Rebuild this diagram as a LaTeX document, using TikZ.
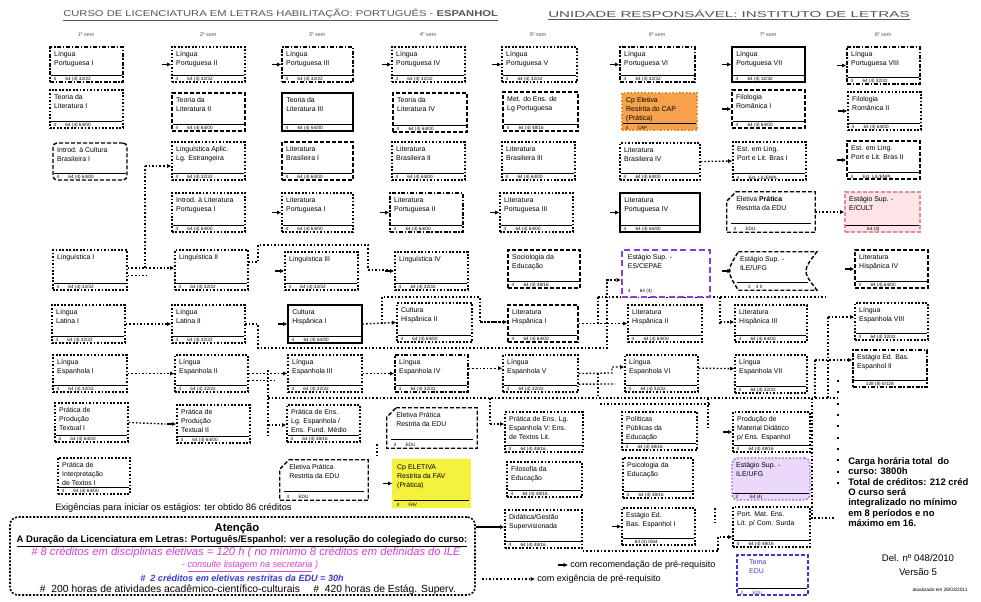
\documentclass[tikz,border=0pt]{standalone}
\usepackage{fontspec}
\setmainfont{Liberation Sans}
\usetikzlibrary{fit,arrows.meta,calc}
\definecolor{orgF}{HTML}{F6A24C}
\definecolor{orgD}{HTML}{EE8A28}
\definecolor{ylw}{HTML}{F5F23E}
\definecolor{pinkF}{HTML}{FCE4E8}
\definecolor{pinkD}{HTML}{E98A96}
\definecolor{purD}{HTML}{8B3FD2}
\definecolor{lavF}{HTML}{EBD8FA}
\definecolor{lavD}{HTML}{A06CD6}
\definecolor{bluD}{HTML}{3A3ACF}
\definecolor{magT}{HTML}{D83ED8}
\definecolor{hdrC}{HTML}{555555}
\newcommand{\cdA}{4\hspace{7pt}64 (4) 32/32}
\newcommand{\cdB}{4\hspace{7pt}64 (4) 64/00}
\newcommand{\cdC}{4\hspace{7pt}64 (4) 48/16}
\tikzset{
  bx/.style={draw, line width=1.05pt, inner sep=0pt, fill=white},
  bdot/.style={bx, dash pattern=on 1.3pt off 1.3pt},
  bdash/.style={bx, dash pattern=on 3pt off 1.5pt},
  bdd/.style={bx, dash pattern=on 3pt off 1.3pt on 1.1pt off 1.3pt},
  bsol/.style={bx, line width=0.9pt},
  ttl/.style={inner sep=0pt, align=left, font=\fontsize{5.2}{6.8}\selectfont},
  cod/.style={inner sep=0pt, anchor=south west, font=\fontsize{3.5}{4}\selectfont},
  sepl/.style={line width=0.35pt},
  rec/.style={draw, line width=0.9pt, -{Latex[length=3.2pt,width=3.2pt]}},
  req/.style={draw, line width=1pt, dash pattern=on 1.2pt off 1.5pt, -{Latex[length=3.2pt,width=3.2pt]}},
  reql/.style={draw, line width=1pt, dash pattern=on 1.2pt off 1.5pt},
  per/.style={inner sep=0pt, font=\fontsize{4}{5}\selectfont, text=hdrC},
  txt/.style={inner sep=0pt, font=\fontsize{7}{8.5}\selectfont},
}
% #1 style, #2 name, #3-#6 corners, #7 title, #8 code
\newcommand{\cbox}[8][bdot]{%
  \node[fit={(#3,#4) (#5,#6)}, #1] (#2) {};
  \node[ttl, anchor=north west] (#2t) at ([shift={(3.5pt,-3.5pt)}]#2.north west) {#7};
  \draw[sepl] ([shift={(1pt,5.5pt)}]#2.south west) -- ([shift={(-1pt,5.5pt)}]#2.south east);
  \node[cod] (#2c) at ([shift={(3pt,0.8pt)}]#2.south west) {#8};
}
\newcommand{\chbox}[7]{%
  \node[fit={(#2,#3) (#4,#5)}, inner sep=0pt] (#1) {};
  \draw[bdash, fill=white] ([xshift=7pt]#1.north west) -- (#1.north east) -- (#1.south east) -- (#1.south west) -- ([yshift=-7pt]#1.north west) -- cycle;
  \node[ttl, anchor=north west] (#1t) at ([shift={(7pt,-3.5pt)}]#1.north west) {#6};
  \draw[sepl] ([shift={(3pt,7pt)}]#1.south west) -- ([shift={(-3pt,7pt)}]#1.south east);
  \node[cod] (#1c) at ([shift={(5pt,1pt)}]#1.south west) {#7};
}
\begin{document}
\begin{tikzpicture}[x=0.75pt,y=-0.75pt]
\useasboundingbox (0,0) rectangle (981,601);
\fill[white] (0,0) rectangle (981,601);

% header
\node[anchor=west, inner sep=0pt, text=hdrC] (hdrA) at (63,15) {\resizebox{326pt}{5.6pt}{\underline{CURSO DE LICENCIATURA EM LETRAS HABILITAÇÃO: PORTUGUÊS - \textbf{ESPANHOL}}}};
\node[anchor=west, inner sep=0pt, text=hdrC] (hdrB) at (548,15) {\resizebox{271pt}{5.6pt}{\underline{UNIDADE RESPONSÁVEL: INSTITUTO DE LETRAS}}};
\foreach \xp/\pn [count=\i] in {86/1,208/2,317/3,428/4,538/5,657/6,768/7,883/8}
  \node[per] (p\i) at (\xp,35) {\pn º sem};

% ---------- connectors (drawn under the boxes) ----------
\draw[reql] (145,268) -- (145,166);
\draw[reql] (248,262) -- (258,262) -- (258,245) -- (368,245) -- (368,270) -- (392,270);
\draw[reql] (245,324) -- (258,324) -- (258,348) -- (607,348) -- (607,280) -- (620,280);
\draw[reql] (382,324) -- (382,297) -- (480,297) -- (480,322) -- (505,322);
\draw[reql] (598,297) -- (825,297);
\draw[reql] (598,297) -- (598,324);
\draw[reql] (720,297) -- (720,324);
\draw[reql] (828,317) -- (828,398);
\draw[reql] (815,360) -- (815,398);
\draw[reql] (268,370) -- (268,435);
\draw[reql] (268,398) -- (837,398);
\draw[reql] (490,398) -- (490,424);
\draw[reql] (600,404) -- (710,404);
\draw[reql] (708,398) -- (708,430);
\draw[reql] (812,398) -- (812,518) -- (836,518);
\draw[line width=1.1pt, dash pattern=on 1.5pt off 7pt] (838,380) -- (838,492);
\draw[reql] (598,373) -- (598,395);
\draw[reql] (377,444) -- (377,457);
\draw[reql] (715,508) -- (715,523);

% ---------- row 1 ----------
\cbox[bdd]{a1}{50}{47}{123}{82}{Língua\\Portuguesa I}{\cdA}
\cbox[bdot]{a2}{172}{47}{245}{82}{Língua\\Portuguesa II}{\cdA}
\cbox[bdd]{a3}{282}{47}{353}{82}{Língua\\Portuguesa III}{\cdA}
\cbox[bdot]{a4}{392}{47}{465}{82}{Língua\\Portuguesa IV}{\cdA}
\cbox[bdot]{a5}{502}{47}{577}{82}{Língua\\Portuguesa V}{\cdA}
\cbox[bdd]{a6}{620}{47}{695}{82}{Língua\\Portuguesa VI}{\cdA}
\cbox[bsol]{a7}{732}{47}{805}{82}{Língua\\Portuguesa VII}{\cdA}
\cbox[bdd]{a8}{847}{47}{920}{84}{Língua\\Portuguesa VIII}{\cdA}
% ---------- row 2 ----------
\cbox[bdot]{b1}{50}{90}{123}{128}{Teoria da\\Literatura I}{\cdB}
\cbox[bdash]{b2}{172}{93}{245}{131}{Teoria da\\Literatura II}{\cdB}
\cbox[bsol]{b3}{282}{93}{353}{131}{Teoria da\\Literatura III}{\cdB}
\cbox[bdash]{b4}{393}{93}{467}{132}{Teoria da\\Literatura IV}{\cdB}
\cbox[bdash]{b5}{503}{92}{578}{131}{Met. do Ens. de\\Lg Portuguesa}{\cdC}
\cbox[bx, fill=orgF, draw=orgD, dash pattern=on 1.3pt off 1.3pt]{b6}{622}{93}{697}{130}{Cp Eletiva\\Restrita do CAP\\(Prática)}{4\hspace{7pt}CAP}
\cbox[bdash]{b7}{732}{90}{805}{128}{Filologia\\Românica I}{\cdB}
\cbox[bdot]{b8}{848}{92}{921}{130}{Filologia\\Românica II}{\cdB}
% ---------- row 3 ----------
\cbox[bdash, rounded corners=3pt]{c1}{53}{143}{127}{180}{Introd. à Cultura\\Brasileira I}{\cdB}
\cbox[bdot]{c2}{172}{142}{245}{180}{Linguística Aplic.\\Lg. Estrangeira}{\cdA}
\cbox[bdash]{c3}{282}{142}{353}{180}{Literatura\\Brasileira I}{\cdB}
\cbox[bdot]{c4}{392}{142}{465}{180}{Literatura\\Brasileira II}{\cdB}
\cbox[bdot]{c5}{502}{142}{575}{180}{Literatura\\Brasileira III}{\cdB}
\cbox[bdot]{c6}{620}{143}{700}{180}{Literatura\\Brasileira IV}{\cdB}
\cbox[bdot]{c7}{733}{142}{806}{180}{Est. em Ling.\\Port e Lit. Bras I}{4\hspace{7pt}Est. Lit./ENPL}
\cbox[bdash]{c8}{847}{141}{920}{179}{Est. em Ling.\\Port e Lit. Bras II}{4\hspace{7pt}Est. Lit./ENPL}
% ---------- row 4 ----------
\cbox[bdot]{d2}{172}{193}{245}{232}{Introd. à Literatura\\Portuguesa I}{\cdB}
\cbox[bdot]{d3}{282}{193}{353}{232}{Literatura\\Portuguesa I}{\cdB}
\cbox[bdd]{d4}{390}{193}{463}{232}{Literatura\\Portuguesa II}{\cdB}
\cbox[bdot]{d5}{500}{193}{573}{232}{Literatura\\Portuguesa III}{\cdB}
\cbox[bsol]{d6}{620}{193}{700}{232}{Literatura\\Portuguesa IV}{\cdB}
\chbox{d7}{727}{192}{815}{232}{Eletiva \textbf{Prática}\\Restrita da EDU}{4\hspace{7pt}EDU}
\cbox[bx, fill=pinkF, draw=pinkD, dash pattern=on 3pt off 1.5pt]{d8}{845}{192}{920}{232}{Estágio Sup. -\\E/CULT}{\hspace{14pt}64 (4)}
% ---------- row 5 ----------
\cbox[bdot]{e1}{53}{250}{127}{290}{Linguística I}{\cdA}
\cbox[bdot]{e2}{175}{250}{248}{290}{Linguística II}{\cdA}
\cbox[bdot]{e3}{285}{252}{358}{290}{Linguística III}{\cdA}
\cbox[bdot]{e4}{395}{252}{468}{290}{Linguística IV}{\cdA}
\cbox[bdash]{e5}{508}{250}{580}{288}{Sociologia da\\Educação}{\cdC}
\node[fit={(622,250) (710,297)}, bx, draw=purD, line width=1.6pt, dash pattern=on 4.5pt off 2.5pt] (e6) {};
\node[ttl, anchor=north west] (e6t) at ([shift={(5pt,-4pt)}]e6.north west) {Estágio Sup. -\\ES/CEPAE};
\node[cod] (e6c) at ([shift={(5pt,3pt)}]e6.south west) {4\hspace{7pt}64 (4)};
\node[fit={(732,252) (818,290)}, inner sep=0pt] (e7) {};
\draw[bdash, fill=white] ([xshift=5pt]e7.north west) -- ([xshift=-1pt]e7.north east) .. controls ([xshift=-12pt]e7.east) .. ([xshift=-1pt]e7.south east) -- ([xshift=5pt]e7.south west) .. controls ([xshift=-4pt]e7.west) .. ([xshift=5pt]e7.north west) -- cycle;
\node[ttl, anchor=north west] (e7t) at ([shift={(6pt,-3.5pt)}]e7.north west) {Estágio Sup. -\\ILE/UFG};
\draw[sepl] ([shift={(4pt,6pt)}]e7.south west) -- ([shift={(-8pt,6pt)}]e7.south east);
\node[cod] (e7c) at ([shift={(12pt,1pt)}]e7.south west) {2\hspace{4pt}4 0};
\cbox[bdash]{e8}{855}{250}{928}{288}{Literatura\\Hispânica IV}{\cdB}
% ---------- row 6 ----------
\cbox[bdot]{f1}{52}{305}{125}{343}{Língua\\Latina I}{\cdA}
\cbox[bdot]{f2}{172}{305}{245}{343}{Língua\\Latina II}{\cdA}
\cbox[bsol]{f3}{288}{305}{362}{343}{Cultura\\Hispânica I}{\cdB}
\cbox[bdot]{f4}{397}{303}{472}{342}{Cultura\\Hispânica II}{\cdB}
\cbox[bdash]{f5}{508}{305}{578}{342}{Literatura\\Hispânica I}{\cdB}
\cbox[bdot]{f6}{628}{305}{702}{342}{Literatura\\Hispânica II}{\cdB}
\cbox[bdot]{f7}{735}{305}{807}{342}{Literatura\\Hispânica III}{\cdB}
\cbox[bdot]{f8}{855}{303}{928}{340}{Língua\\Espanhola VIII}{\cdA}
% ---------- row 7 ----------
\cbox[bdot]{g1}{53}{355}{127}{392}{Língua\\Espanhola I}{\cdA}
\cbox[bdot]{g2}{175}{355}{248}{392}{Língua\\Espanhola II}{\cdA}
\cbox[bdot]{g3}{288}{355}{362}{392}{Língua\\Espanhola III}{\cdA}
\cbox[bdd]{g4}{395}{355}{468}{392}{Língua\\Espanhola IV}{\cdA}
\cbox[bdot]{g5}{503}{355}{578}{392}{Língua\\Espanhola V}{\cdA}
\cbox[bdot]{g6}{625}{355}{698}{392}{Língua\\Espanhola VI}{\cdA}
\cbox[bdot]{g7}{735}{355}{807}{393}{Língua\\Espanhola VII}{\cdA}
\cbox[bdd]{g8}{853}{350}{927}{387}{Estágio Ed. Bas.\\Espanhol II}{\hspace{7pt}128 (8) 0/128}
% ---------- row 8 ----------
\cbox[bdot]{h1}{55}{403}{128}{442}{Prática de\\Produção\\Textual I}{\cdB}
\cbox[bdot]{h2}{177}{405}{250}{443}{Prática de\\Produção\\Textual II}{\cdB}
\cbox[bdot]{h3}{287}{405}{360}{442}{Prática de Ens.\\Lg. Espanhola /\\Ens. Fund. Médio}{\cdC}
\chbox{h4}{387}{408}{477}{448}{Eletiva Prática\\Restrita da EDU}{4\hspace{7pt}EDU}
\cbox[bdot]{h5}{505}{412}{583}{452}{Prática de Ens. Lg.\\Espanhola V: Ens.\\de Textos Lit.}{\cdC}
\cbox[bdot]{h6}{622}{412}{697}{450}{Políticas\\Públicas da\\Educação}{\cdC}
\cbox[bdot]{h7}{733}{412}{810}{452}{Produção de\\Material Didático\\p/ Ens. Espanhol}{\cdC}
% ---------- row 9 ----------
\cbox[bdot]{i1}{58}{458}{130}{494}{Prática de\\Interpretação\\de Textos I}{\cdB}
\chbox{i3}{280}{460}{368}{500}{Eletiva Prática\\Restrita da EDU}{4\hspace{7pt}EDU}
\cbox[bx, fill=ylw, draw=ylw]{i4}{393}{460}{470}{507}{Cp ELETIVA\\Restrita da FAV\\(Prática)}{4\hspace{7pt}FAV}
\cbox[bdot]{i5}{507}{462}{582}{497}{Filosofia da\\Educação}{\cdC}
\cbox[bdot]{i6}{623}{458}{693}{498}{Psicologia da\\Educação}{\cdC}
\cbox[bx, fill=lavF, draw=lavD, rounded corners=4pt, dash pattern=on 1.3pt off 1.3pt]{i7}{732}{458}{810}{500}{Estágio Sup. -\\ILE/UFG}{2\hspace{9pt}64 (4)}
% ---------- row 10 ----------
\cbox[bdot]{j5}{505}{510}{582}{548}{Didática/Gestão\\Supervisionada}{\cdC}
\cbox[bdot]{j6}{622}{508}{695}{545}{Estágio Ed.\\Bas. Espanhol I}{\hspace{7pt}64 (4) 0/64}
\cbox[bdot]{j7}{733}{507}{810}{547}{Port. Mat. Ens.\\Lit. p/ Com. Surda}{\cdC}
\cbox[bx, draw=bluD, text=bluD, dash pattern=on 3pt off 1.5pt]{k7}{737}{555}{808}{595}{\textcolor{bluD}{\hspace{6pt}Tema}\\\textcolor{bluD}{\hspace{6pt}EDU}}{\textcolor{bluD}{2\hspace{7pt}EDU}}

% ---------- arrows into boxes ----------
\foreach \n in {a2,a3,a4,a5,a6,a7,a8,b7,b8,c8,d3,d4,d5,d6,e3,e4,e7,e8,f3,h2,h7,i4,j6}
  \draw[rec] ([xshift=-7pt]\n.west) -- (\n.west);
\draw[req] (145,166) -- (c2.west |- 0,166);
\draw[req] ([yshift=1.5pt]e1.east) -- ([yshift=1.5pt]e2.west);
\draw[reql] ([yshift=-4pt]e1.east) -- ++(16pt,0);
\draw[req] (f1.east) -- (f2.west);
\draw[req] (607,280) -- (e6.west |- 0,280);
\draw[req] (f3.east) -- (f4.west);
\draw[req] (480,322) -- (f5.west |- 0,322);
\draw[req] (f5.east) -- (f6.west);
\draw[req] (720,322) -- (f7.west |- 0,322);
\draw[req] (828,317) -- (f8.west |- 0,317);
\draw[req] (815,360) -- (g8.west |- 0,360);
\draw[req] (c6.east) -- (c7.west);
\draw[req] (d7.east) -- (d8.west);
\draw[req] (g1.east) -- (g2.west);
\draw[req] (g2.east) -- (g3.west);
\draw[reql] ([yshift=-5pt]g2.east) -- ++(20pt,0);
\draw[req] (g3.east) -- (g4.west);
\draw[req] ([yshift=4pt]g4.east) -- ([yshift=4pt]g5.west);
\draw[req] (g5.east) -- (612,373) -- (612,367) -- (g6.west |- 0,367);
\draw[reql] ([yshift=-8pt]g5.east) -- (615,384);
\draw[req] ([yshift=4pt]g6.east) -- ([yshift=4pt]g7.west);
\draw[req] (490,424) -- (h5.west |- 0,424);
\draw[req] (268,425) -- (h3.west |- 0,425);
\draw[reql] (h1.east) -- ([xshift=-8pt]h2.west);
\draw[req] ([yshift=-1.8pt]j5.south east) -| (718,537) -- (j7.west |- 0,537);

% ---------- notes ----------
\node[txt, anchor=west] (exig) at (55,508) {Exigências para iniciar os estágios: ter obtido 86 créditos};
\node[fit={(10,517) (475,595)}, inner sep=0pt, draw, line width=1.2pt, rounded corners=6pt, dash pattern=on 1.5pt off 1.2pt] (nb) {};
\node[inner sep=0pt, font=\bfseries\fontsize{8.5}{9}\selectfont] (nb1) at (237,529) {Atenção};
\node[inner sep=0pt] (nb2) at (242,541) {\resizebox{338pt}{!}{\fontsize{7}{8}\selectfont\bfseries\underline{A Duração da Licenciatura em Letras: Português/Espanhol: ver a resolução do colegiado do curso:}}};
\node[inner sep=0pt, text=magT] (nb3) at (246,553) {\resizebox{322pt}{!}{\fontsize{7}{8}\selectfont\itshape \# 8 créditos em disciplinas eletivas = 120 h ( no mínimo 8 créditos em definidas do ILE}};
\node[inner sep=0pt, text=magT, font=\itshape\fontsize{6.8}{8}\selectfont] (nb4) at (250,566) {- \underline{consulte listagem na secretaria} )};
\node[inner sep=0pt, text=bluD, font=\bfseries\itshape\fontsize{6.8}{8}\selectfont] (nb5) at (242,578) {\# \ 2 créditos em eletivas restritas da EDU = 30h};
\node[inner sep=0pt] (nb6) at (248,590) {\resizebox{312pt}{!}{\fontsize{7}{8}\selectfont \# \ 200 horas de atividades acadêmico-científico-culturais \quad \# \ 420 horas de Estág. Superv.}};
\draw[rec] (nb.east |- 0,527) -- (j5.west |- 0,527);

\node[anchor=north west, align=left, inner sep=0pt, font=\bfseries\fontsize{7.1}{7.8}\selectfont] (info) at (848,457) {Carga horária total \ do\\curso: 3800h\\Total de créditos: 212 créd\\O curso será\\integralizado no mínimo\\em 8 períodos e no\\máximo em 16.};
\node[align=center, inner sep=0pt, font=\fontsize{7.2}{10}\selectfont] (del) at (918,565) {Del. nº 048/2010\\Versão 5};
\node[inner sep=0pt, font=\fontsize{3.6}{4}\selectfont] (upd) at (940,590) {atualizado em 28/03/2011};

% legend
\node[anchor=west, inner sep=0pt, font=\fontsize{6.8}{8}\selectfont] (lg1) at (570,565) {com recomendação de pré-requisito};
\draw[rec] ([xshift=-9pt]lg1.west) -- ([xshift=-1.5pt]lg1.west);
\node[anchor=west, inner sep=0pt, font=\fontsize{6.8}{8}\selectfont] (lg2) at (537,579) {com exigência de pré-requisito};
\coordinate (lgs) at (482,579);
\draw[req] (lgs) -- ([xshift=-1.5pt]lg2.west);
\end{tikzpicture}
\end{document}
